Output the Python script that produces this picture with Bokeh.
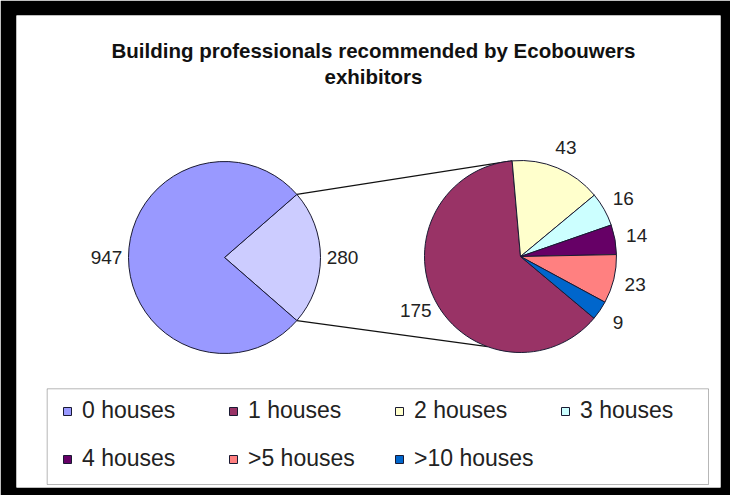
import math
from bokeh.plotting import figure
from bokeh.models import Range1d, ColumnDataSource, Legend, LegendItem, BoxAnnotation, Label
from bokeh.embed import file_html
from bokeh.resources import INLINE
from bokeh.core.properties import value

# ---------------- data ----------------
title_lines = ["Building professionals recommended by Ecobouwers", "exhibitors"]
main_labels = ["Other", "0 houses"]          # "Other" = slice split into the second pie
main_values = [280, 947]
main_colors = ["#CCCCFF", "#9999FF"]
sub_labels = ["1 houses", "2 houses", "3 houses", "4 houses", ">5 houses", ">10 houses"]
sub_values = [175, 43, 16, 14, 23, 9]
sub_colors = ["#993366", "#FFFFCC", "#CCFFFF", "#660066", "#FF8080", "#0066CC"]
legend_order = ["0 houses", "1 houses", "2 houses", "3 houses", "4 houses", ">5 houses", ">10 houses"]

# ---------------- layout (page pixel coordinates) ----------------
W, H = 730, 495
FX0, FX1 = 16, 720
FY0, FY1 = 15, 487


def Y(y):
    return H - y


R = 96
LC = (224, 257)        # centre of main pie
RC = (520, 256)        # centre of second pie
RIGHT_START = math.radians(-40)
LABEL_R = 118
FONT = "Liberation Sans"

p = figure(width=W, height=H, output_backend="svg", toolbar_location=None,
           x_range=Range1d(FX0, FX1), y_range=Range1d(Y(FY1), Y(FY0)),
           min_border_left=FX0, min_border_right=W - FX1, min_border_top=FY0,
           min_border_bottom=H - FY1,
           x_axis_location=None, y_axis_location=None)
p.grid.visible = False
p.outline_line_color = None
p.border_fill_color = "black"
p.background_fill_color = "white"

# ---------------- main pie ----------------
tot_main = sum(main_values)
half = math.pi * main_values[0] / tot_main
m_start, m_end = [], []
a = -half
for v in main_values:
    da = 2 * math.pi * v / tot_main
    m_start.append(a)
    m_end.append(a + da)
    a += da
msrc = ColumnDataSource(dict(x=[LC[0]] * 2, y=[Y(LC[1])] * 2, start=m_start, end=m_end,
                             color=main_colors, label=main_labels))

# ---------------- second pie (clockwise) ----------------
tot_sub = sum(sub_values)
s_start, s_end = [], []
a = RIGHT_START
for v in sub_values:
    da = 2 * math.pi * v / tot_sub
    s_start.append(a - da)
    s_end.append(a)
    a -= da
ssrc = ColumnDataSource(dict(x=[RC[0]] * len(sub_values), y=[Y(RC[1])] * len(sub_values),
                             start=s_start, end=s_end, color=sub_colors, label=sub_labels))

# connector lines (drawn beneath the pies)
top_ang = s_start[0]
bot_ang = math.radians(-110)
p.segment(x0=[LC[0] + R * math.cos(half), LC[0] + R * math.cos(-half)],
          y0=[Y(LC[1]) + R * math.sin(half), Y(LC[1]) + R * math.sin(-half)],
          x1=[RC[0] + R * math.cos(top_ang), RC[0] + R * math.cos(bot_ang)],
          y1=[Y(RC[1]) + R * math.sin(top_ang), Y(RC[1]) + R * math.sin(bot_ang)],
          line_color="#111111", line_width=1.2)

rm = p.wedge(x="x", y="y", radius=R, start_angle="start", end_angle="end", source=msrc,
             fill_color="color", line_color="#1a1a33", line_width=1)
rs = p.wedge(x="x", y="y", radius=R, start_angle="start", end_angle="end", source=ssrc,
             fill_color="color", line_color="#1a1a33", line_width=1)

# ---------------- data labels ----------------
lx, ly, lt = [], [], []
for st, en, v in zip(m_start, m_end, main_values):
    mid = (st + en) / 2
    lx.append(LC[0] + LABEL_R * math.cos(mid))
    ly.append(Y(LC[1]) + LABEL_R * math.sin(mid))
    lt.append(str(v))
for st, en, v in zip(s_start, s_end, sub_values):
    mid = (st + en) / 2
    lx.append(RC[0] + LABEL_R * math.cos(mid))
    ly.append(Y(RC[1]) + LABEL_R * math.sin(mid))
    lt.append(str(v))
p.text(x=lx, y=ly, text=lt, text_align="center", text_baseline="middle",
       text_font=value(FONT), text_font_size="19px", text_color="#222222")

# ---------------- title ----------------
for i, line in enumerate(title_lines):
    p.add_layout(Label(x=373, y=Y(49.6 + 26.5 * i), text=line, text_align="center",
                       text_baseline="alphabetic", text_font=FONT, text_font_size="20.5px",
                       text_font_style="bold", text_color="#111111"))

# ---------------- legend ----------------
p.add_layout(BoxAnnotation(left=46.7, right=708, top=Y(388.3), bottom=Y(484),
                           fill_color="white", fill_alpha=1, line_color="#111111", line_width=1,
                           level="underlay"))


def item_for(lbl):
    if lbl in main_labels:
        return LegendItem(label=lbl, renderers=[rm], index=main_labels.index(lbl))
    return LegendItem(label=lbl, renderers=[rs], index=sub_labels.index(lbl))


rows = [legend_order[:4], legend_order[4:]]
row_bottoms = [63, 15]
for items, yb in zip(rows, row_bottoms):
    leg = Legend(items=[item_for(l) for l in items], orientation="horizontal",
                 location=(46, yb), glyph_width=10, glyph_height=10, label_standoff=10,
                 label_width=126, spacing=20, padding=0, margin=0,
                 border_line_color=None, background_fill_alpha=0,
                 label_text_font=FONT, label_text_font_size="23px", label_text_color="#222222")
    p.add_layout(leg)

open("out.html", "w").write(file_html(p, INLINE))
